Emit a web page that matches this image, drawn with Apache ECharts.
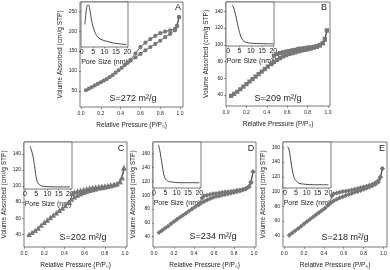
<!DOCTYPE html>
<html><head><meta charset="utf-8">
<script src="https://cdn.jsdelivr.net/npm/echarts@6/dist/echarts.min.js"></script>
<style>html,body{margin:0;padding:0;background:#fff}#c{width:390px;height:270px}</style>
</head><body><div id="c"></div>
<script>
// ---- Main isotherm data (relative pressure, volume adsorbed) ----
const pAdsA = [0.05,0.08,0.11,0.14,0.17,0.20,0.23,0.26,0.29,0.32,0.35,0.38,0.41,0.44,0.47,0.50,0.55,0.60,0.65,0.70,0.75,0.80,0.85,0.90,0.95,0.97,0.99];
const vAdsA = [52,56,60,64,68,72,76,80,85,90,96,102,108,115,121,126,134,143,152,160,168,176,185,193,202,212,235];
const pDesA = [0.99,0.97,0.95,0.90,0.85,0.80,0.75,0.70,0.65,0.60,0.55,0.50,0.47];
const vDesA = [235,214,206,202,199,195,188,180,171,160,144,128,121];

const pAdsB = [0.05,0.08,0.11,0.14,0.17,0.20,0.23,0.26,0.29,0.32,0.35,0.38,0.41,0.44,0.47,0.50,0.53,0.56,0.59,0.62,0.65,0.68,0.71,0.74,0.77,0.80,0.83,0.86,0.89,0.92,0.95,0.97,0.99];
const vAdsB = [39,41.5,44,47,50,53,56,59,62,65,68,71,74,77,79.5,82,84,86,87.5,89,90,91,92,93,94,94.5,95.5,96.5,97.5,99,102,107,117];
const pDesB = [0.99,0.97,0.95,0.92,0.89,0.86,0.83,0.80,0.77,0.74,0.71,0.68,0.65,0.62,0.59,0.56,0.53,0.50,0.47,0.45];
const vDesB = [117,106,102,100,98.5,97.5,97,96.5,96,95.5,95,94,93.5,92.5,92,91,90,89,87,78];

const pAdsC = [0.05,0.08,0.11,0.14,0.17,0.20,0.23,0.26,0.29,0.32,0.35,0.38,0.41,0.44,0.47,0.50,0.53,0.56,0.59,0.62,0.65,0.68,0.71,0.74,0.77,0.80,0.83,0.86,0.89,0.92,0.95,0.97,0.99];
const vAdsC = [39,41.5,44,47,50.5,54,57,60,63,66,69,72,75,79,83,86,88,90,91.5,93,94,95,96,97,97.5,98,99,100,101,102,105,110,122];
const pDesC = [0.99,0.97,0.95,0.92,0.89,0.86,0.83,0.80,0.77,0.74,0.71,0.68,0.65,0.62,0.59,0.56,0.53,0.50,0.48,0.45];
const vDesC = [122,110,105,102.5,101.5,100.5,100,99.5,99,98.5,98,97.5,97,96,95,94,93,92,90,79];

const pAdsD = [0.05,0.08,0.11,0.14,0.17,0.20,0.23,0.26,0.29,0.32,0.35,0.38,0.41,0.44,0.47,0.50,0.53,0.56,0.59,0.62,0.65,0.68,0.71,0.74,0.77,0.80,0.83,0.86,0.89,0.92,0.95,0.97,0.99];
const vAdsD = [46,49,52,55,58.5,62,65,68,71,74,77,80,83,86,88.5,91,93,95,96.5,98,99,100,101,102,103,104,105,106,107.5,109,112,118,134];
const pDesD = [0.99,0.97,0.95,0.92,0.89,0.86,0.83,0.80,0.77,0.74,0.71,0.68,0.65,0.62,0.59,0.56,0.53,0.50,0.48,0.45];
const vDesD = [134,119,113,110,108.5,107.5,107,106,105.5,105,104.5,104,103,102.5,102,101,100,99,96,87];

const pAdsE = [0.05,0.08,0.11,0.14,0.17,0.20,0.23,0.26,0.29,0.32,0.35,0.38,0.41,0.44,0.47,0.50,0.53,0.56,0.59,0.62,0.65,0.68,0.71,0.74,0.77,0.80,0.83,0.86,0.89,0.92,0.95,0.97,0.99];
const vAdsE = [41,44,47,50,53,56.5,59.5,62.5,65.5,68.5,71.5,74.5,77.5,81,85,87.5,89.5,91.5,93,94.5,96,97.5,99,100,101.5,103,104.5,106,108,110,113,119,131];
const pDesE = [0.99,0.97,0.95,0.92,0.89,0.86,0.83,0.80,0.77,0.74,0.71,0.68,0.65,0.62,0.59,0.56,0.53,0.50,0.48,0.46];
const vDesE = [131,120,115,112,110,108.5,107,106,105,104,103,102,101,100.5,100,99,98,97,94,84];

// ---- Inset pore size distributions (pore size nm, relative intensity) ----
const poreA = [1.4,1.8,2.2,2.6,3.0,3.4,3.8,4.3,5.0,5.8,6.5,7.5,9.4,11.5,13.7,16.5,19.7];
const distA = [0.5,0.72,0.88,0.93,0.93,0.88,0.76,0.6,0.45,0.33,0.26,0.2,0.15,0.12,0.09,0.07,0.055];
const poreB = [1.8,2.3,2.8,3.3,3.8,4.3,4.8,5.3,5.8,6.5,7.5,9,11,14,17,20];
const distB = [0.93,0.88,0.8,0.7,0.58,0.46,0.35,0.26,0.19,0.13,0.09,0.07,0.06,0.055,0.05,0.05];
const poreC = [2.2,2.7,3.2,3.7,4.2,4.7,5.2,5.7,6.4,7.2,8.5,10,13,16,20];
const distC = [0.91,0.85,0.77,0.66,0.5,0.33,0.2,0.13,0.09,0.07,0.055,0.05,0.045,0.045,0.045];
const poreD = [1.9,2.3,2.7,3.1,3.5,3.9,4.3,4.8,5.6,6.5,7.8,9.5,12,15,20];
const distD = [0.94,0.88,0.78,0.66,0.54,0.41,0.3,0.22,0.17,0.14,0.13,0.12,0.115,0.115,0.115];
const poreE = [1.1,1.6,2.1,2.6,3.1,3.6,4.1,4.7,5.4,6.5,8.5,11,14,17,20];
const distE = [0.9,0.87,0.78,0.62,0.47,0.34,0.24,0.18,0.14,0.1,0.085,0.075,0.07,0.07,0.07];

// ---- Tick labels and texts ----
const xTicks = [0,0.2,0.4,0.6,0.8,1.0];
const yTicksA = [50,100,150,200,250];
const yTicksB = [40,60,80,100,120,140];
const yTicksC = [40,60,80,100,120,140];
const yTicksD = [40,60,80,100,120,140,160];
const yTicksE = [40,60,80,100,120,140,160];
const poreTicks = [0,5,10,15,20];
const panelLetters = ['A','B','C','D','E'];
const surfaceAreas = ['S=272 m²/g','S=209 m²/g','S=202 m²/g','S=234 m²/g','S=218 m²/g'];
const xTitle = 'Relative Pressure (P/P₀)';
const yTitle = 'Volume Absorbed (cm³/g STP)';
const insetTitle = 'Pore Size (nm)';

const zip = (a,b) => a.map((v,i)=>[v,b[i]]);
const FONT = 'Liberation Sans, Arial, sans-serif';
const INK = '#222';

const panels = [
  {grid:{left:80,top:2,width:103,height:105}, x:[-0.01,1.03], y:[10,273], yt:yTicksA,
   ads:zip(pAdsA,vAdsA), des:zip(pDesA,vDesA), sym:'emptyCircle',
   inset:{left:81,top:2,width:47,height:45}, ix:[-0.3,20.3], pd:zip(poreA,distA),
   sPos:[133,99], lPos:[178,8]},
  {grid:{left:226,top:2,width:104,height:104}, x:[0,1.02], y:[27,151], yt:yTicksB,
   ads:zip(pAdsB,vAdsB), des:zip(pDesB,vDesB), sym:'emptyRect',
   inset:{left:226,top:2,width:48,height:44}, ix:[-1.0,20.3], pd:zip(poreB,distB),
   sPos:[278,99], lPos:[324,8]},
  {grid:{left:23,top:142,width:104,height:106}, x:[0,1.02], y:[24,155], yt:yTicksC,
   ads:zip(pAdsC,vAdsC), des:zip(pDesC,vDesC), sym:'emptyTriangle',
   inset:{left:24,top:142,width:48,height:47}, ix:[-0.44,20.9], pd:zip(poreC,distC),
   sPos:[83,238], lPos:[121,149]},
  {grid:{left:153,top:142,width:103,height:106}, x:[-0.01,1.02], y:[25,177], yt:yTicksD,
   ads:zip(pAdsD,vAdsD), des:zip(pDesD,vDesD), sym:'emptyDiamond',
   inset:{left:153,top:142,width:48,height:46}, ix:[-0.44,20.75], pd:zip(poreD,distD),
   sPos:[213,237], lPos:[251,149]},
  {grid:{left:283,top:142,width:104,height:106}, x:[-0.013,1.037], y:[25,167], yt:yTicksE,
   ads:zip(pAdsE,vAdsE), des:zip(pDesE,vDesE), sym:'emptyDiamond',
   inset:{left:283,top:142,width:48,height:46}, ix:[-0.92,21.2], pd:zip(poreE,distE),
   sPos:[345,238], lPos:[382,149]}
];

const grid=[], xAxis=[], yAxis=[], series=[], graphic=[];
panels.forEach((p,i)=>{
  const gi = grid.length;
  grid.push(Object.assign({show:true,borderColor:'#555',borderWidth:0.8,backgroundColor:'transparent',containLabel:false}, p.grid));
  xAxis.push({type:'value',gridIndex:gi,min:p.x[0],max:p.x[1],
    name:xTitle,nameLocation:'middle',nameGap:15,nameTextStyle:{fontSize:6.5,color:INK,fontFamily:FONT},
    axisLine:{show:false},splitLine:{show:false},
    axisTick:{show:true,length:2,lineStyle:{color:'#555',width:0.6},customValues:xTicks},
    axisLabel:{fontSize:5,color:INK,fontFamily:FONT,margin:4,customValues:xTicks,formatter:v=>v.toFixed(1)}});
  yAxis.push({type:'value',gridIndex:gi,min:p.y[0],max:p.y[1],
    name:yTitle,nameLocation:'middle',nameGap:16,nameRotate:90,nameTextStyle:{fontSize:6.5,color:INK,fontFamily:FONT},
    axisLine:{show:false},splitLine:{show:false},
    axisTick:{show:true,length:2,lineStyle:{color:'#555',width:0.6},customValues:p.yt},
    axisLabel:{fontSize:5,color:INK,fontFamily:FONT,margin:3,customValues:p.yt}});
  const common = {type:'line',xAxisIndex:gi,yAxisIndex:gi,symbol:p.sym,symbolSize:2.2,showSymbol:true,
    lineStyle:{color:'#333',width:0.8},itemStyle:{color:'#777',borderColor:'#777',borderWidth:0.5},animation:false,silent:true};
  series.push(Object.assign({data:p.ads},common));
  series.push(Object.assign({data:p.des},common));
});
panels.forEach((p,i)=>{
  const gi = grid.length;
  grid.push(Object.assign({show:true,borderColor:'#555',borderWidth:0.8,backgroundColor:'#fff',containLabel:false}, p.inset));
  xAxis.push({type:'value',gridIndex:gi,min:p.ix[0],max:p.ix[1],
    name:insetTitle,nameLocation:'middle',nameGap:12,nameTextStyle:{fontSize:7,color:INK,fontFamily:FONT},
    axisLine:{show:false},splitLine:{show:false},
    axisTick:{show:true,length:1.5,lineStyle:{color:'#555',width:0.6},customValues:poreTicks},
    axisLabel:{fontSize:7,color:INK,fontFamily:FONT,margin:2,customValues:poreTicks}});
  yAxis.push({type:'value',gridIndex:gi,min:0,max:1,axisLine:{show:false},splitLine:{show:false},axisTick:{show:false},axisLabel:{show:false}});
  series.push({type:'line',xAxisIndex:gi,yAxisIndex:gi,data:p.pd,showSymbol:false,smooth:0.3,
    lineStyle:{color:'#333',width:0.9},animation:false,silent:true});
  graphic.push({type:'text',x:p.sPos[0],y:p.sPos[1],style:{text:surfaceAreas[i],fontSize:9,fontFamily:FONT,fill:INK,align:'center',verticalAlign:'middle'}});
  graphic.push({type:'text',x:p.lPos[0],y:p.lPos[1],style:{text:panelLetters[i],fontSize:9,fontFamily:FONT,fill:INK,align:'center',verticalAlign:'middle'}});
});

const chart = echarts.init(document.getElementById('c'),null,{renderer:'canvas'});
chart.setOption({animation:false,backgroundColor:'#fff',grid,xAxis,yAxis,series,graphic});
</script>
</body></html>
